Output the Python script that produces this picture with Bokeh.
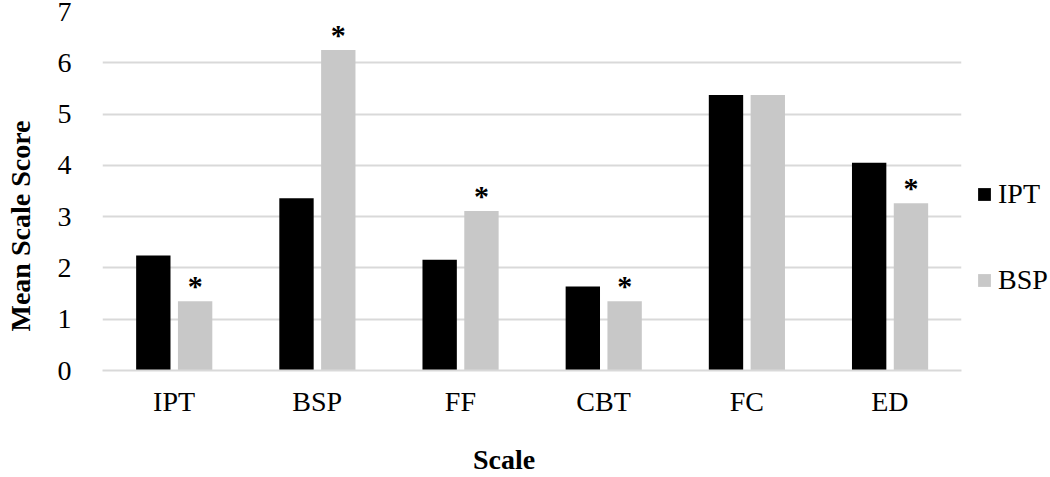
from bokeh.plotting import figure
from bokeh.models import ColumnDataSource, FactorRange, Legend, LegendItem
from bokeh.transform import dodge
from bokeh.core.properties import value
from bokeh.embed import file_html
from bokeh.resources import INLINE

categories = ["IPT", "BSP", "FF", "CBT", "FC", "ED"]
ipt_scores = [2.24, 3.36, 2.16, 1.64, 5.37, 4.05]
bsp_scores = [1.35, 6.25, 3.11, 1.35, 5.37, 3.26]
significant = [True, True, True, True, False, True]
y_ticks = [0, 1, 2, 3, 4, 5, 6, 7]

FONT = "Liberation Serif"
BLACK = "#000000"
GREY = "#c8c8c8"
NBSP = "\u00a0"

source = ColumnDataSource(data=dict(cat=categories, ipt=ipt_scores, bsp=bsp_scores))
star_cats = [c for c, s in zip(categories, significant) if s]
star_vals = [v for v, s in zip(bsp_scores, significant) if s]
star_src = ColumnDataSource(data=dict(cat=star_cats, y=star_vals, t=["*"] * len(star_cats)))

p = figure(x_range=FactorRange(*categories, range_padding=0), y_range=(0, 7),
           frame_width=859, frame_height=359, output_backend="svg", toolbar_location=None,
           min_border_left=102, min_border_right=89, min_border_top=11, min_border_bottom=107)
p.x_range.range_padding = 0

r1 = p.vbar(x=dodge("cat", -0.145, range=p.x_range), top="ipt", width=0.24, source=source,
            fill_color=BLACK, line_color=None)
r2 = p.vbar(x=dodge("cat", 0.147, range=p.x_range), top="bsp", width=0.24, source=source,
            fill_color=GREY, line_color=None)

p.text(x=dodge("cat", 0.147, range=p.x_range), y="y", text="t", source=star_src,
       text_font=value(FONT), text_font_size="30px", text_font_style="bold",
       text_align="center", text_baseline="bottom", y_offset=1, text_color="#000000")

p.outline_line_color = None
p.background_fill_color = None
p.border_fill_color = "white"

p.xgrid.grid_line_color = None
p.ygrid.grid_line_color = "#d9d9d9"
p.ygrid.grid_line_width = 2
p.yaxis.ticker = y_ticks

for ax in (p.xaxis[0], p.yaxis[0]):
    ax.major_tick_line_color = None
    ax.minor_tick_line_color = None
    ax.major_label_text_font = FONT
    ax.major_label_text_font_size = "28px"
    ax.major_label_text_color = "#000000"
    ax.axis_label_text_font = FONT
    ax.axis_label_text_font_size = "28px"
    ax.axis_label_text_font_style = "bold"
    ax.axis_label_text_color = "#000000"

p.yaxis.axis_line_color = None
p.xaxis.axis_line_color = "#d9d9d9"
p.xaxis.axis_line_width = 2
p.xaxis.major_label_standoff = 9
p.yaxis.major_label_standoff = 25
# trailing no-break spaces shift the centred titles like the reference
p.xaxis.axis_label = "Scale" + NBSP * 8
p.yaxis.axis_label = "Mean Scale Score" + NBSP * 10
p.xaxis.axis_label_standoff = 24
p.yaxis.axis_label_standoff = 19

legend = Legend(items=[LegendItem(label="IPT", renderers=[r1]),
                       LegendItem(label="BSP", renderers=[r2])],
                location=(15, 74), orientation="vertical",
                label_text_font=FONT, label_text_font_size="28px",
                label_text_color="#000000",
                glyph_width=16, glyph_height=16, label_standoff=6,
                spacing=54, padding=0, margin=0,
                border_line_color=None, background_fill_alpha=0)
p.add_layout(legend, "right")

open("out.html", "w").write(file_html(p, INLINE))
